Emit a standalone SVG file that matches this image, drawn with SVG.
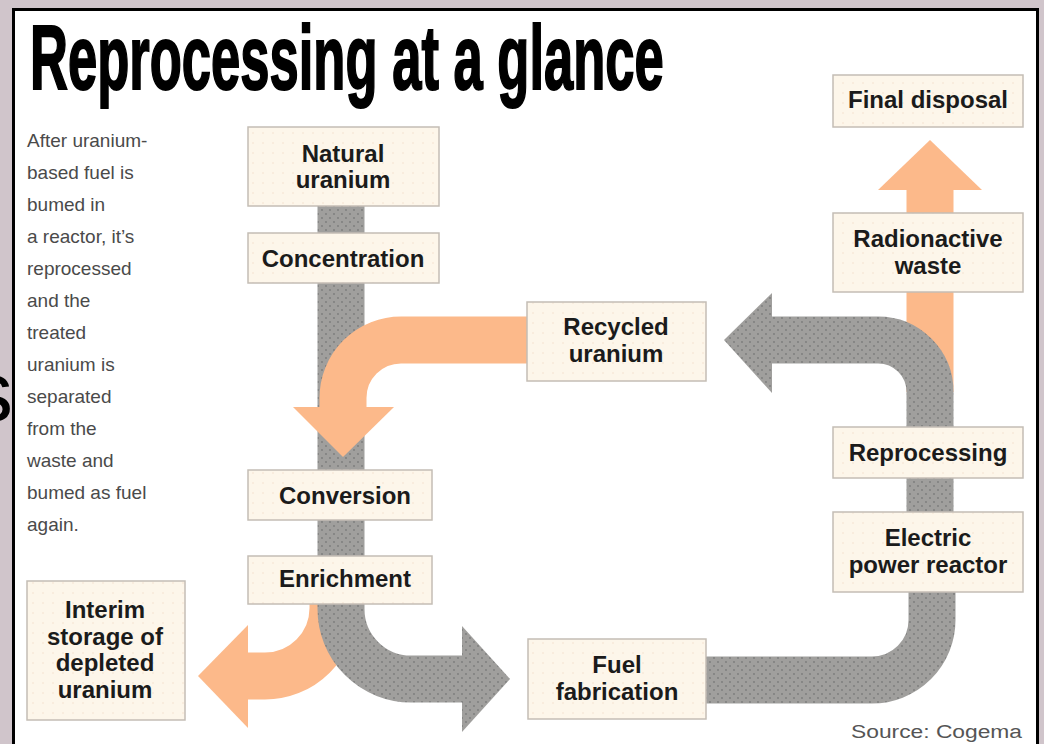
<svg xmlns="http://www.w3.org/2000/svg" width="1044" height="744" viewBox="0 0 1044 744">
<style>
.box{fill:url(#cdots);stroke:#c4bdb5;stroke-width:1.5}
.lbl{font-family:"Liberation Sans",Arial,sans-serif;font-weight:bold;font-size:24px;fill:#1b1b1b;text-anchor:middle}
.para{font-family:"Liberation Sans",Arial,sans-serif;font-size:19px;fill:#4a4a4a}
.gray{fill:none;stroke:url(#gdots);stroke-width:47}
.orange{fill:none;stroke:#fcb98a;stroke-width:47}
.ghead{fill:url(#gdots)}
.ohead{fill:#fcb98a}
</style>
<defs>
<pattern id="gdots" width="8" height="8" patternUnits="userSpaceOnUse">
<rect width="8" height="8" fill="#a09f9d"/>
<circle cx="2" cy="2" r="0.9" fill="#7b7b7b"/>
<circle cx="6" cy="6" r="0.9" fill="#7b7b7b"/>
</pattern>
<pattern id="cdots" width="10" height="10" patternUnits="userSpaceOnUse">
<rect width="10" height="10" fill="#fdf6ea"/>
<circle cx="3" cy="3" r="0.7" fill="#f3dcc6"/>
</pattern>
</defs>
<rect x="0" y="0" width="1044" height="744" fill="#d0c5cb"/>
<text x="-30" y="421" font-family="Liberation Sans, Arial, sans-serif" font-size="86" fill="#000">s</text>
<rect x="13.5" y="9.5" width="1024" height="800" fill="#ffffff" stroke="#000" stroke-width="3"/>
<text transform="translate(30 89) scale(0.584 1)" x="0" y="0" font-family="Liberation Sans, Arial, sans-serif" font-weight="bold" font-size="90" fill="#000" stroke="#000" stroke-width="2">Reprocessing at a glance</text>
<g id="intro" class="para">
<text x="27" y="147">After uranium-</text>
<text x="27" y="179">based fuel is</text>
<text x="27" y="211">bumed in</text>
<text x="27" y="243">a reactor, it’s</text>
<text x="27" y="275">reprocessed</text>
<text x="27" y="307">and the</text>
<text x="27" y="339">treated</text>
<text x="27" y="371">uranium is</text>
<text x="27" y="403">separated</text>
<text x="27" y="435">from the</text>
<text x="27" y="467">waste and</text>
<text x="27" y="499">bumed as fuel</text>
<text x="27" y="531">again.</text>
</g>
<g id="connectors">
<path class="orange" d="M333 603 V608 A68 68 0 0 1 265 676 H246"/>
<polygon class="ohead" points="248,625 248,728 198,676"/>
<path class="gray" d="M341 205 V609 A70 70 0 0 0 411 679 H463"/>
<polygon class="ghead" points="462,626 462,732 510,679"/>
<path class="orange" d="M527 340 H401 A58 58 0 0 0 343 398 V408"/>
<polygon class="ohead" points="293,407 394,407 343,457"/>
<path class="orange" d="M930 392 V189"/>
<polygon class="ohead" points="878,190 982,190 930,140"/>
<path class="gray" d="M930 430 V392 A52 52 0 0 0 878 340 H771"/>
<polygon class="ghead" points="772,293 772,393 724,340"/>
<path class="gray" d="M930 476 V514"/>
<path class="gray" d="M932 590 V620 A60 60 0 0 1 872 680 H703"/>
</g>
<g id="natural-uranium"><rect class="box" x="248" y="127" width="191" height="79"/><text class="lbl" x="343" y="162">Natural</text><text class="lbl" x="343" y="188">uranium</text></g>
<g id="concentration"><rect class="box" x="248" y="233" width="191" height="50"/><text class="lbl" x="343" y="267">Concentration</text></g>
<g id="conversion"><rect class="box" x="248" y="470" width="184" height="50"/><text class="lbl" x="345" y="504">Conversion</text></g>
<g id="enrichment"><rect class="box" x="248" y="556" width="184" height="48"/><text class="lbl" x="345" y="587">Enrichment</text></g>
<g id="interim-storage"><rect class="box" x="27" y="581" width="158" height="139"/><text class="lbl" x="105" y="618">Interim</text><text class="lbl" x="105" y="645">storage of</text><text class="lbl" x="105" y="671">depleted</text><text class="lbl" x="105" y="698">uranium</text></g>
<g id="recycled-uranium"><rect class="box" x="527" y="302" width="179" height="79"/><text class="lbl" x="616" y="335">Recycled</text><text class="lbl" x="616" y="362">uranium</text></g>
<g id="fuel-fabrication"><rect class="box" x="528" y="639" width="178" height="80"/><text class="lbl" x="617" y="673">Fuel</text><text class="lbl" x="617" y="700">fabrication</text></g>
<g id="electric-power-reactor"><rect class="box" x="833" y="512" width="190" height="80"/><text class="lbl" x="928" y="546">Electric</text><text class="lbl" x="928" y="573">power reactor</text></g>
<g id="reprocessing"><rect class="box" x="833" y="427" width="190" height="51"/><text class="lbl" x="928" y="461">Reprocessing</text></g>
<g id="radionactive-waste"><rect class="box" x="833" y="213" width="190" height="79"/><text class="lbl" x="928" y="247">Radionactive</text><text class="lbl" x="928" y="274">waste</text></g>
<g id="final-disposal"><rect class="box" x="833" y="75" width="190" height="52"/><text class="lbl" x="928" y="108">Final disposal</text></g>
<text transform="translate(1022 738) scale(1.2 1)" x="0" y="0" font-family="Liberation Sans, Arial, sans-serif" font-size="19" fill="#555" text-anchor="end">Source:  Cogema</text>
</svg>
